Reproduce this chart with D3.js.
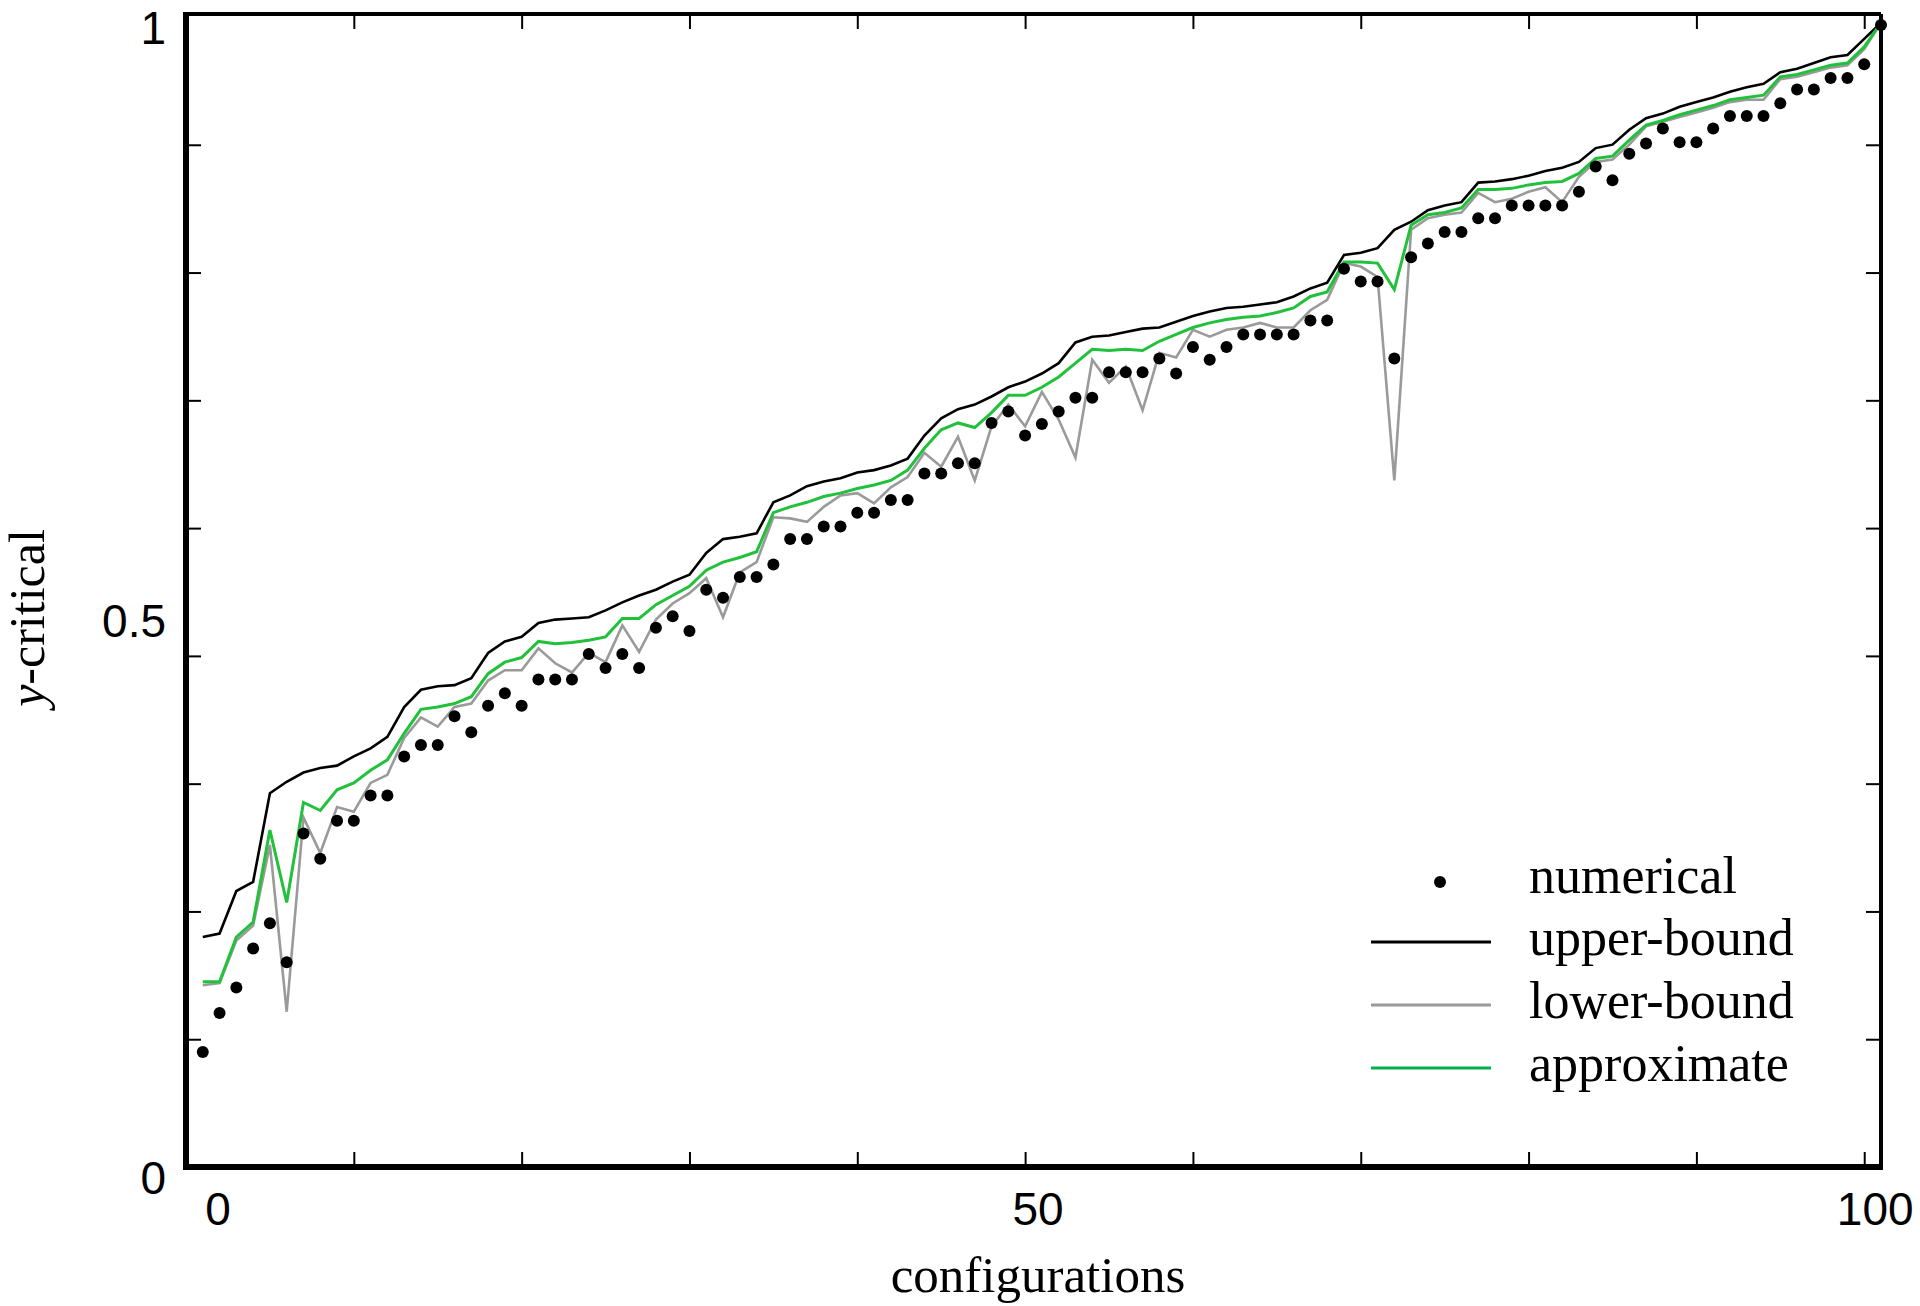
<!DOCTYPE html>
<html>
<head>
<meta charset="utf-8">
<script src="https://cdn.jsdelivr.net/npm/d3@7"></script>
<style>
  body { margin: 0; background: #fff; }
  svg { display: block; }
</style>
</head>
<body>
<script>
// values, one per configuration (101 of them)
var numerical = [
    0.100, 0.134, 0.156, 0.190, 0.212, 0.178, 0.290, 0.268, 0.301, 0.301,
    0.323, 0.323, 0.357, 0.367, 0.367, 0.392, 0.378, 0.401, 0.412, 0.401,
    0.424, 0.424, 0.424, 0.446, 0.434, 0.446, 0.434, 0.469, 0.479, 0.466,
    0.502, 0.495, 0.513, 0.513, 0.524, 0.546, 0.546, 0.557, 0.557, 0.569,
    0.569, 0.580, 0.580, 0.603, 0.603, 0.612, 0.612, 0.647, 0.657, 0.636,
    0.646, 0.657, 0.669, 0.669, 0.691, 0.691, 0.691, 0.703, 0.690, 0.713,
    0.702, 0.713, 0.724, 0.724, 0.724, 0.724, 0.736, 0.736, 0.781, 0.770,
    0.770, 0.703, 0.791, 0.803, 0.813, 0.813, 0.825, 0.825, 0.836, 0.836,
    0.836, 0.836, 0.848, 0.870, 0.858, 0.881, 0.890, 0.903, 0.891, 0.891,
    0.903, 0.914, 0.914, 0.914, 0.925, 0.937, 0.937, 0.947, 0.947, 0.959,
    0.993
];

var upperBound = [
    0.200, 0.203, 0.240, 0.248, 0.325, 0.335, 0.343, 0.347, 0.349, 0.357,
    0.364, 0.374, 0.400, 0.415, 0.418, 0.419, 0.425, 0.447, 0.457, 0.461,
    0.473, 0.476, 0.477, 0.478, 0.484, 0.491, 0.497, 0.502, 0.509, 0.515,
    0.534, 0.546, 0.548, 0.551, 0.578, 0.584, 0.592, 0.596, 0.599, 0.604,
    0.606, 0.610, 0.616, 0.636, 0.651, 0.659, 0.663, 0.670, 0.678, 0.683,
    0.690, 0.699, 0.717, 0.722, 0.723, 0.726, 0.729, 0.730, 0.735, 0.740,
    0.744, 0.747, 0.748, 0.750, 0.752, 0.757, 0.764, 0.769, 0.793, 0.795,
    0.799, 0.815, 0.822, 0.832, 0.836, 0.839, 0.856, 0.857, 0.859, 0.862,
    0.866, 0.869, 0.874, 0.886, 0.889, 0.902, 0.912, 0.916, 0.922, 0.926,
    0.930, 0.935, 0.939, 0.942, 0.952, 0.955, 0.960, 0.965, 0.967, 0.981,
    0.995
];

var lowerBound = [
    0.158, 0.160, 0.197, 0.210, 0.280, 0.135, 0.304, 0.273, 0.313, 0.309,
    0.334, 0.341, 0.373, 0.391, 0.383, 0.400, 0.403, 0.423, 0.432, 0.432,
    0.451, 0.438, 0.430, 0.447, 0.439, 0.471, 0.448, 0.476, 0.490, 0.499,
    0.512, 0.478, 0.517, 0.526, 0.565, 0.564, 0.561, 0.574, 0.584, 0.586,
    0.577, 0.591, 0.600, 0.621, 0.609, 0.635, 0.597, 0.644, 0.663, 0.644,
    0.674, 0.650, 0.617, 0.702, 0.682, 0.696, 0.658, 0.708, 0.704, 0.728,
    0.722, 0.728, 0.730, 0.734, 0.730, 0.730, 0.745, 0.754, 0.786, 0.783,
    0.774, 0.597, 0.815, 0.825, 0.828, 0.830, 0.847, 0.839, 0.842, 0.848,
    0.852, 0.839, 0.861, 0.874, 0.876, 0.889, 0.905, 0.909, 0.913, 0.917,
    0.921, 0.926, 0.928, 0.928, 0.946, 0.948, 0.952, 0.956, 0.958, 0.972,
    0.995
];

var approximate = [
    0.161, 0.161, 0.200, 0.213, 0.293, 0.230, 0.317, 0.310, 0.328, 0.334,
    0.345, 0.354, 0.377, 0.398, 0.400, 0.403, 0.409, 0.429, 0.439, 0.443,
    0.457, 0.455, 0.456, 0.458, 0.461, 0.477, 0.477, 0.489, 0.497, 0.505,
    0.519, 0.526, 0.530, 0.535, 0.569, 0.574, 0.578, 0.583, 0.586, 0.590,
    0.593, 0.597, 0.606, 0.625, 0.641, 0.647, 0.643, 0.656, 0.671, 0.671,
    0.678, 0.687, 0.699, 0.711, 0.710, 0.711, 0.710, 0.718, 0.724, 0.730,
    0.734, 0.737, 0.739, 0.740, 0.743, 0.747, 0.757, 0.761, 0.787, 0.787,
    0.786, 0.763, 0.819, 0.828, 0.830, 0.834, 0.850, 0.850, 0.851, 0.854,
    0.856, 0.857, 0.864, 0.877, 0.879, 0.893, 0.906, 0.910, 0.915, 0.919,
    0.923, 0.928, 0.930, 0.932, 0.948, 0.950, 0.954, 0.958, 0.960, 0.974,
    0.995
];

var xTickValues = d3.range(0, 101, 10);
var yTickValues = d3.range(1, 9).map(function(k) { return k / 9; });
var xLabels = [0, 50, 100];
var yLabels = [0, 0.5, 1];
var legendNames = ["numerical", "upper-bound", "lower-bound", "approximate"];

function init() {

    var W = 1920, H = 1306;
    var frame = { left: 186, right: 1881, top: 14, bottom: 1167 };
    var green = "#22c13c";
    var sans = "'Liberation Sans', Arial, sans-serif";
    var serif = "'Liberation Serif', 'Times New Roman', serif";

    var svg = d3.select("body")
        .append("svg")
        .attr("width", W)
        .attr("height", H);

    // configurations sit at 1..101 on a 0..101 frame
    var xScale = d3.scaleLinear()
        .domain([0, 101])
        .range([frame.left, frame.right]);

    var yScale = d3.scaleLinear()
        .domain([0, 1])
        .range([frame.bottom, 17]);

    var line = d3.line()
        .x(function(d, i) { return xScale(i + 1); })
        .y(function(d) { return yScale(d); });

    // inward ticks on all four sides
    var tickLen = 15;
    var xb = d3.axisBottom(xScale).tickValues(xTickValues).tickSize(-tickLen).tickFormat("");
    var xt = d3.axisTop(xScale).tickValues(xTickValues).tickSize(-tickLen).tickFormat("");
    var yl = d3.axisLeft(yScale).tickValues(yTickValues).tickSize(-tickLen).tickFormat("");
    var yr = d3.axisRight(yScale).tickValues(yTickValues).tickSize(-tickLen).tickFormat("");

    [[xb, "translate(0," + frame.bottom + ")"],
     [xt, "translate(0," + frame.top + ")"],
     [yl, "translate(" + frame.left + ",0)"],
     [yr, "translate(" + frame.right + ",0)"]].forEach(function(a) {
        var g = svg.append("g").attr("transform", a[1]).call(a[0]);
        g.select(".domain").remove();
        g.selectAll("line").attr("stroke", "#000").attr("stroke-width", 2);
    });

    // series lines
    svg.append("path").datum(upperBound)
        .attr("d", line).attr("fill", "none")
        .attr("stroke", "#000").attr("stroke-width", 2.6);

    svg.append("path").datum(lowerBound)
        .attr("d", line).attr("fill", "none")
        .attr("stroke", "#9a9a9a").attr("stroke-width", 2.6);

    svg.append("path").datum(approximate)
        .attr("d", line).attr("fill", "none")
        .attr("stroke", green).attr("stroke-width", 3);

    svg.append("g").selectAll("circle")
        .data(numerical)
        .enter()
        .append("circle")
        .attr("cx", function(d, i) { return xScale(i + 1); })
        .attr("cy", function(d) { return yScale(d); })
        .attr("r", 6)
        .attr("fill", "#000");

    // frame, heavier on the left and bottom
    svg.append("line")
        .attr("x1", frame.left).attr("x2", frame.right)
        .attr("y1", frame.top).attr("y2", frame.top)
        .attr("stroke", "#000").attr("stroke-width", 4);
    svg.append("line")
        .attr("x1", frame.right).attr("x2", frame.right)
        .attr("y1", frame.top).attr("y2", frame.bottom)
        .attr("stroke", "#000").attr("stroke-width", 4);
    svg.append("line")
        .attr("x1", frame.left).attr("x2", frame.left)
        .attr("y1", frame.top - 2).attr("y2", frame.bottom + 3)
        .attr("stroke", "#000").attr("stroke-width", 6);
    svg.append("line")
        .attr("x1", frame.left - 3).attr("x2", frame.right + 2)
        .attr("y1", frame.bottom).attr("y2", frame.bottom)
        .attr("stroke", "#000").attr("stroke-width", 6);

    // tick labels (the originals sit a little off their ticks)
    var xNudge = [32, 13, 11];
    svg.append("g").selectAll("text")
        .data(xLabels)
        .enter()
        .append("text")
        .attr("x", function(d, i) { return xScale(d) + xNudge[i]; })
        .attr("y", 1225)
        .attr("text-anchor", "middle")
        .style("font-family", sans)
        .style("font-size", "46px")
        .text(function(d) { return d; });

    var yNudge = [27, 45, 27];
    svg.append("g").selectAll("text")
        .data(yLabels)
        .enter()
        .append("text")
        .attr("x", 166)
        .attr("y", function(d, i) { return yScale(d) + yNudge[i]; })
        .attr("text-anchor", "end")
        .style("font-family", sans)
        .style("font-size", "46px")
        .text(function(d) { return d; });

    // axis titles
    svg.append("text")
        .attr("x", 1038)
        .attr("y", 1292)
        .attr("text-anchor", "middle")
        .style("font-family", serif)
        .style("font-size", "51px")
        .text("configurations");

    var yt = svg.append("text")
        .attr("transform", "translate(44,618) rotate(-90)")
        .attr("text-anchor", "middle")
        .style("font-family", serif)
        .style("font-size", "50px");
    yt.append("tspan").style("font-style", "italic").text("y");
    yt.append("tspan").text("-critical");

    // legend
    var legend = svg.append("g");
    var rowY = [880, 942, 1005, 1068];
    var lx0 = 1371, lx1 = 1491, tx = 1529;

    legend.append("circle")
        .attr("cx", 1440).attr("cy", rowY[0] + 2)
        .attr("r", 6).attr("fill", "#000");

    var styles = [null, ["#000", 3], ["#9a9a9a", 3], ["#00b04f", 3]];
    styles.forEach(function(s, i) {
        if (!s) return;
        legend.append("line")
            .attr("x1", lx0).attr("x2", lx1)
            .attr("y1", rowY[i]).attr("y2", rowY[i])
            .attr("stroke", s[0]).attr("stroke-width", s[1]);
    });

    legend.selectAll("text")
        .data(legendNames)
        .enter()
        .append("text")
        .attr("x", tx)
        .attr("y", function(d, i) { return rowY[i] + 13; })
        .style("font-family", serif)
        .style("font-size", "52px")
        .text(function(d) { return d; });
}

window.onload = init;
</script>
</body>
</html>
